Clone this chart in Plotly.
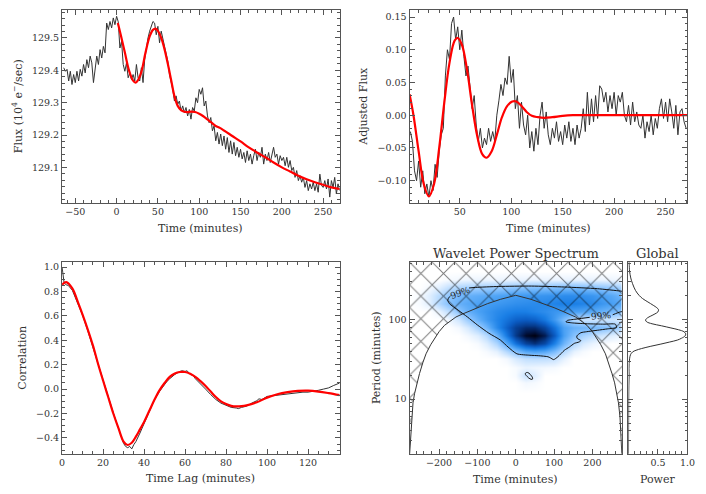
import math
import plotly.graph_objects as go

FONT = "DejaVu Serif"
TXT = "#333333"
AXC = "#555555"

# ---------------- data: panel 1 (raw flux) ----------------
FLUX_START = -64
FLUX_STEP = 2
FLUX = [129.408, 129.397, 129.403, 129.367, 129.397, 129.356, 129.387, 129.362, 129.397, 129.367,
        129.403, 129.382, 129.418, 129.392, 129.433, 129.408, 129.444, 129.423, 129.362, 129.413,
        129.444, 129.418, 129.464, 129.438, 129.474, 129.454, 129.546, 129.526, 129.551, 129.531,
        129.562, 129.541, 129.567, 129.550, 129.469, 129.490, 129.418, 129.397, 129.423, 129.377,
        129.392, 129.372, 129.387, 129.367, 129.418, 129.377, 129.367, 129.408, 129.362, 129.433,
        129.469, 129.500, 129.521, 129.536, 129.551, 129.546, 129.510, 129.536, 129.485, 129.521,
        129.495, 129.474, 129.454, 129.428, 129.387, 129.367, 129.341, 129.305, 129.321, 129.295,
        129.305, 129.274, 129.290, 129.269, 129.285, 129.259, 129.279, 129.249, 129.285, 129.274,
        129.315, 129.300, 129.341, 129.326, 129.346, 129.290, 129.305, 129.259, 129.238, 129.254,
        129.213, 129.228, 129.182, 129.208, 129.172, 129.203, 129.167, 129.197, 129.156, 129.192,
        129.146, 129.182, 129.141, 129.177, 129.136, 129.162, 129.131, 129.156, 129.126, 129.146,
        129.115, 129.151, 129.121, 129.141, 129.110, 129.136, 129.156, 129.121, 129.146, 129.131,
        129.162, 129.110, 129.141, 129.121, 129.146, 129.115, 129.141, 129.162, 129.131, 129.141,
        129.110, 129.136, 129.121, 129.131, 129.105, 129.131, 129.100, 129.121, 129.090, 129.100,
        129.069, 129.090, 129.059, 129.074, 129.054, 129.069, 129.038, 129.059, 129.028, 129.049,
        129.033, 129.054, 129.028, 129.049, 129.023, 129.079, 129.044, 129.038, 129.059, 129.033,
        129.064, 129.008, 129.059, 129.038, 129.069, 129.018, 129.049, 129.028]

FIT_T = [1.5, 5, 10, 15, 20, 23, 26, 30, 35, 40, 44, 47, 50, 54, 58, 62, 66, 70, 74, 78, 82, 86, 90,
         95, 100, 105, 110, 115, 120, 125, 130, 140, 150, 160, 170, 180, 190, 200, 210, 220, 230, 240,
         250, 260, 270]
FIT_FLUX = [129.546, 129.51, 129.455, 129.40, 129.368, 129.362, 129.37, 129.395, 129.455, 129.505,
            129.525, 129.529, 129.522, 129.50, 129.465, 129.42, 129.37, 129.32, 129.29, 129.277,
            129.272, 129.271, 129.272, 129.271, 129.266, 129.258, 129.248, 129.238, 129.228, 129.222,
            129.214, 129.197, 129.18, 129.162, 129.146, 129.131, 129.115, 129.100, 129.087, 129.074,
            129.063, 129.054, 129.046, 129.038, 129.033]

# ---------------- data: panel 2 (adjusted flux) ----------------
ADJ_START = 2
ADJ_STEP = 2
ADJ = [-0.025, -0.040, -0.085, -0.100, -0.070, -0.110, -0.085, -0.120, -0.105, -0.125,
       -0.100, -0.115, -0.075, -0.095, -0.055, -0.030, -0.020, 0.060, 0.100, 0.085,
       0.140, 0.150, 0.115, 0.135, 0.100, 0.130, 0.090, 0.060, 0.075, 0.040,
       0.010, 0.030, -0.015, -0.040, -0.020, -0.050, -0.035, -0.045, -0.020, -0.040,
       -0.025, -0.040, 0.000, 0.022, 0.047, 0.030, 0.057, 0.047, 0.090, 0.050,
       0.070, 0.010, 0.030, -0.020, 0.020, -0.015, -0.030, 0.000, -0.050, -0.025,
       -0.055, -0.020, -0.045, 0.000, 0.020, -0.020, 0.005, -0.030, -0.045, -0.020,
       -0.035, -0.010, -0.040, -0.025, -0.045, -0.015, -0.035, -0.010, -0.040, -0.020,
       -0.045, -0.015, -0.035, -0.020, 0.010, -0.025, 0.035, -0.015, 0.025, -0.010,
       0.030, -0.005, 0.045, 0.040, 0.020, 0.035, 0.005, 0.030, 0.010, 0.035,
       0.000, 0.030, 0.020, 0.035, 0.000, -0.010, 0.015, -0.015, 0.020, -0.010,
       0.005, -0.015, -0.020, 0.000, -0.035, -0.010, -0.025, 0.000, -0.030, -0.005,
       -0.020, 0.010, 0.025, -0.005, 0.020, -0.010, 0.025, 0.005, -0.020, 0.015,
       -0.030, 0.005, 0.010, -0.010, -0.020]

ADJ_FIT_T = [1.2, 5, 10, 15, 20, 25, 30, 35, 40, 45, 48, 52, 57, 62, 67, 72, 76, 81, 86, 91, 96, 101,
             105, 110, 115, 120, 126, 132, 140, 150, 160, 180, 220, 271]
ADJ_FIT = [0.032, 0.0, -0.055, -0.105, -0.124, -0.105, -0.05, 0.02, 0.08, 0.114, 0.118, 0.108, 0.07,
           0.015, -0.032, -0.060, -0.065, -0.055, -0.03, -0.003, 0.014, 0.021, 0.021, 0.014, 0.005,
           -0.001, -0.003, -0.004, -0.003, -0.001, 0.0, 0.0, 0.0, 0.0]

# ---------------- data: panel 3 (autocorrelation) ----------------
LAG = [0, 0.5, 1, 2, 3, 5, 8, 10, 12.5, 15, 17.5, 20, 22.5, 25, 27.5, 29, 30, 31, 32, 33, 34, 35, 36,
       38, 40, 42.5, 45, 47.5, 50, 51, 52.5, 55, 57.5, 58.5, 60, 61, 62.5, 64, 65, 67.5, 70, 72.5, 75,
       77.5, 80, 82.5, 85, 86, 87.5, 90, 92.5, 95, 96, 97.5, 100, 102.5, 105, 107.5, 110, 112.5, 115,
       117.5, 120, 122.5, 125, 127.5, 130, 132.5, 135.4]
CORR = [1.0, 0.95, 0.87, 0.855, 0.85, 0.81, 0.695, 0.605, 0.48, 0.35, 0.21, 0.075, -0.06, -0.195,
        -0.33, -0.40, -0.445, -0.47, -0.48, -0.47, -0.49, -0.455, -0.43, -0.36, -0.285, -0.185, -0.09,
        -0.02, 0.04, 0.06, 0.085, 0.12, 0.145, 0.15, 0.145, 0.15, 0.12, 0.11, 0.085, 0.045, 0.0, -0.045,
        -0.085, -0.115, -0.135, -0.15, -0.155, -0.16, -0.15, -0.14, -0.115, -0.095, -0.08, -0.085,
        -0.06, -0.055, -0.05, -0.04, -0.035, -0.03, -0.028, -0.025, -0.025, -0.02, -0.01, 0.0, 0.01,
        0.03, 0.05]
LAG_FIT = [0, 2, 5, 8, 10, 12.5, 15, 17.5, 20, 22.5, 25, 27.5, 30, 32, 34, 36, 38, 40, 42.5, 45, 47.5,
           50, 52.5, 55, 57.5, 60, 62.5, 65, 67.5, 70, 72.5, 75, 77.5, 80, 82.5, 85, 87.5, 90, 95, 100,
           105, 110, 115, 120, 125, 130, 135.4]
CORR_FIT = [0.855, 0.877, 0.825, 0.70, 0.61, 0.49, 0.36, 0.21, 0.07, -0.065, -0.2, -0.32, -0.43,
            -0.458, -0.44, -0.39, -0.33, -0.27, -0.18, -0.09, -0.01, 0.05, 0.10, 0.128, 0.14, 0.14,
            0.125, 0.10, 0.065, 0.025, -0.02, -0.065, -0.10, -0.122, -0.137, -0.142, -0.14, -0.133,
            -0.108, -0.07, -0.042, -0.025, -0.015, -0.013, -0.02, -0.033, -0.05]

# ---------------- data: wavelet power spectrum ----------------
WAV_T = [-275, -250, -225, -200, -175, -150, -125, -100, -75, -50, -25, 0, 25, 50, 75, 100, 125,
         150, 175, 200, 225, 250, 275]
WAV_P = [12, 16, 20, 25, 32, 40, 50, 63, 80, 100, 126, 160, 200, 250, 320, 400]
WAV_POWER = [
    [0, 0, 0, 0, 0, 0, 0, 0, 0, 0, 0, 0, 0, 0, 0, 0, 0, 0, 0, 0, 0, 0, 0],
    [0, 0, 0, 0, 0, 0, 0, 0, 0, 0, 0, 0, 3, 2, 0, 0, 0, 0, 0, 0, 0, 0, 0],
    [0, 0, 0, 0, 0, 0, 0, 0, 0, 0, 0, 2, 14, 8, 0, 0, 0, 0, 0, 0, 0, 0, 0],
    [0, 0, 0, 0, 0, 0, 0, 0, 0, 0, 0, 2, 5, 4, 3, 2, 0, 0, 0, 0, 0, 0, 0],
    [0, 0, 0, 0, 0, 0, 0, 0, 0, 0, 3, 10, 15, 16, 16, 14, 6, 0, 0, 0, 0, 0, 0],
    [0, 0, 0, 0, 0, 0, 0, 0, 2, 6, 18, 30, 42, 45, 42, 32, 18, 6, 2, 0, 0, 0, 0],
    [0, 0, 0, 0, 0, 0, 0, 2, 8, 20, 42, 64, 80, 86, 78, 58, 36, 20, 10, 5, 2, 0, 0],
    [0, 0, 0, 0, 0, 0, 3, 8, 18, 36, 62, 84, 97, 100, 92, 72, 46, 30, 22, 16, 12, 8, 5],
    [0, 0, 0, 0, 0, 3, 10, 22, 36, 55, 70, 82, 88, 88, 80, 64, 45, 38, 36, 34, 32, 28, 22],
    [0, 0, 0, 0, 4, 12, 25, 38, 48, 57, 64, 70, 72, 70, 62, 48, 32, 18, 12, 12, 12, 12, 10],
    [0, 0, 0, 6, 16, 28, 38, 45, 50, 55, 58, 60, 60, 57, 54, 50, 48, 46, 44, 42, 38, 34, 30],
    [0, 2, 8, 20, 30, 38, 42, 45, 47, 49, 51, 53, 54, 55, 56, 58, 60, 60, 58, 55, 50, 46, 42],
    [0, 2, 8, 18, 28, 34, 38, 40, 42, 44, 46, 48, 49, 50, 51, 52, 54, 54, 52, 50, 46, 42, 36],
    [0, 0, 3, 8, 15, 20, 22, 23, 24, 25, 27, 29, 30, 31, 31, 32, 33, 33, 32, 30, 28, 26, 22],
    [0, 0, 0, 0, 2, 3, 4, 4, 4, 4, 5, 5, 5, 5, 5, 5, 5, 5, 5, 5, 4, 4, 3],
    [0, 0, 0, 0, 0, 0, 0, 0, 0, 0, 0, 0, 0, 0, 0, 0, 0, 0, 0, 0, 0, 0, 0],
]

# cone of influence (period in minutes)
COI_T = [-277, -276, -274, -272, -268, -264, -258, -251, -242, -234, -222, -212, -200, -186, -170,
         -156, -140, -126, -100, -74, -40, 0, 40, 74, 100, 126, 140, 156, 170, 186, 200, 212, 222,
         234, 242, 251, 258, 264, 268, 272, 274, 276, 277]
COI_P = [2.0, 2.4, 4, 6, 9, 11.7, 16, 21, 29, 37, 48, 58, 70, 84, 96, 107, 116, 124, 140, 157, 178,
         200, 178, 157, 140, 124, 116, 107, 96, 84, 70, 58, 48, 37, 29, 21, 16, 11.7, 9, 6, 4, 2.4, 2.0]

# 99% significance contours
SIG_T = [-177.6, -175, -170, None, -122, -105, -45, 41, 127, 213, 273, 285, None, 285, 273, 253,
         None, 193, 160, 135, 131, 150, 187, 230, 260, 263, 240, 213, 185, 170, 159.5, 160, 170, 165,
         153, 140, 127, 110, 99, 90, 84, 60, 37, 3, -20, -40, -70, -100, -126, -150, -173, -177.6]
SIG_P = [173, 186, 197, None, 247, 251, 258, 261, 254, 242, 226, 222, None, 126, 124, 114,
         None, 106, 101, 97, 93, 90, 88, 87, 87, 79, 76, 73, 70, 68, 62, 58, 54, 52,
         50, 45, 41, 34, 31.3, 33, 34, 35, 35.5, 37, 45, 55, 67, 85, 107, 130, 157, 173]
SIG2_T = [26, 31, 38, 44, 43, 37, 30, 25, 26]
SIG2_P = [21.3, 21.6, 20.4, 18.4, 17.7, 18.0, 19.2, 20.6, 21.3]
SIG_LABELS = [(-145, 214, -20), (222, 109, -5)]  # (time, period, angle)

# global wavelet spectrum
GLOBAL_P = [520, 450, 400, 330, 280, 230, 200, 182, 165, 150, 140, 132, 124, 117, 110, 104, 98, 93,
            88, 83, 78, 74, 70, 66, 62, 58, 55, 52, 49, 46, 43, 41, 39, 36, 32, 28, 24, 20, 15, 10,
            6, 4, 2]
GLOBAL_POWER = [0.01, 0.015, 0.02, 0.04, 0.07, 0.12, 0.18, 0.24, 0.33, 0.42, 0.48, 0.51, 0.50, 0.45,
                0.38, 0.32, 0.29, 0.31, 0.40, 0.56, 0.72, 0.85, 0.94, 0.97, 0.96, 0.90, 0.83, 0.70,
                0.55, 0.38, 0.22, 0.13, 0.07, 0.035, 0.02, 0.012, 0.01, 0.012, 0.008, 0.005, 0.004,
                0.003, 0.002]

flux_t = [FLUX_START + FLUX_STEP * i for i in range(len(FLUX))]
adj_t = [ADJ_START + ADJ_STEP * i for i in range(len(ADJ))]

W, H = 706, 494


def px(x):
    return x / W


def py(y):
    return 1 - y / H


def style(**kw):
    minor = kw.pop("minor", {})
    base = dict(showline=True, linecolor=AXC, linewidth=1, mirror="allticks", ticks="inside",
                ticklen=5, tickwidth=1, tickcolor=AXC, showgrid=False, zeroline=False,
                tickfont=dict(family=FONT, size=9.5, color=TXT), fixedrange=True)
    m = dict(ticks="inside", ticklen=2.5, tickwidth=1, tickcolor=AXC, showgrid=False)
    m.update(minor)
    base["minor"] = m
    base.update(kw)
    return base


fig = go.Figure()
BLK = dict(color="#333333", width=1)
RED = dict(color="#ff0000", width=2.2, shape="spline")

# panel 1
fig.add_trace(go.Scatter(x=flux_t, y=FLUX, mode="lines", line=BLK, xaxis="x", yaxis="y"))
fig.add_trace(go.Scatter(x=FIT_T, y=FIT_FLUX, mode="lines", line=RED, xaxis="x", yaxis="y"))
# panel 2
fig.add_trace(go.Scatter(x=adj_t, y=ADJ, mode="lines", line=BLK, xaxis="x2", yaxis="y2"))
fig.add_trace(go.Scatter(x=ADJ_FIT_T, y=ADJ_FIT, mode="lines", line=RED, xaxis="x2", yaxis="y2"))
# panel 3
fig.add_trace(go.Scatter(x=LAG, y=CORR, mode="lines", line=BLK, xaxis="x3", yaxis="y3"))
fig.add_trace(go.Scatter(x=LAG_FIT, y=CORR_FIT, mode="lines", line=RED, xaxis="x3", yaxis="y3"))

# wavelet
CS = [[0, "#ffffff"], [0.05, "#eaf4ff"], [0.15, "#c2e0ff"], [0.3, "#86c2ff"], [0.45, "#4ca2f5"],
      [0.6, "#1a7fe6"], [0.72, "#0b5cc4"], [0.84, "#063a8a"], [0.93, "#02184a"], [1, "#000010"]]
fig.add_trace(go.Heatmap(x=WAV_T, y=WAV_P, z=WAV_POWER, zmin=0, zmax=100, colorscale=CS,
                         zsmooth="best", showscale=False, hoverinfo="skip", xaxis="x4", yaxis="y4"))
hatch_x = [-285, -285] + COI_T + [285, 285]
hatch_y = [700, 2.0] + COI_P + [2.0, 700]
fig.add_trace(go.Scatter(x=hatch_x, y=hatch_y, mode="lines", fill="toself",
                         fillcolor="rgba(0,0,0,0)", line=dict(width=0),
                         fillpattern=dict(shape="x", size=16, solidity=0.12, fgcolor="#000000",
                                          bgcolor="rgba(0,0,0,0)", fillmode="overlay"),
                         hoverinfo="skip", xaxis="x4", yaxis="y4"))
fig.add_trace(go.Scatter(x=COI_T, y=COI_P, mode="lines", line=dict(color="#333333", width=1),
                         xaxis="x4", yaxis="y4"))
fig.add_trace(go.Scatter(x=SIG_T, y=SIG_P, mode="lines",
                         line=dict(color="#111111", width=1, shape="spline", smoothing=0.6),
                         xaxis="x4", yaxis="y4"))
fig.add_trace(go.Scatter(x=SIG2_T, y=SIG2_P, mode="lines",
                         line=dict(color="#111111", width=1, shape="spline"),
                         xaxis="x4", yaxis="y4"))
# global
fig.add_trace(go.Scatter(x=GLOBAL_POWER, y=GLOBAL_P, mode="lines",
                         line=dict(color="#333333", width=1, shape="spline"),
                         xaxis="x5", yaxis="y5"))

TOP = [py(202), py(9.5)]
BOT = [py(453.7), py(261.7)]
LOGR = [math.log10(2.07), math.log10(520)]

fig.update_layout(
    width=W, height=H, margin=dict(l=0, r=0, t=0, b=0), showlegend=False,
    paper_bgcolor="white", plot_bgcolor="white",
    xaxis=style(domain=[px(60), px(342)], anchor="y", range=[-66, 270], tick0=0, dtick=50,
                minor=dict(dtick=10, tick0=0)),
    yaxis=style(domain=TOP, anchor="x", range=[128.991, 129.585], tickmode="array",
                tickvals=[129.1, 129.2, 129.3, 129.4, 129.5], tickformat=".1f",
                minor=dict(tickmode="linear", tick0=129.0, dtick=0.02)),
    xaxis2=style(domain=[px(413), px(695)], anchor="y2", range=[1.2, 271], tick0=0, dtick=50,
                 minor=dict(dtick=10, tick0=0)),
    yaxis2=style(domain=TOP, anchor="x2", range=[-0.1335, 0.16], tick0=0, dtick=0.05,
                 tickformat=".2f", minor=dict(dtick=0.01, tick0=0)),
    xaxis3=style(domain=[px(60), px(342)], anchor="y3", range=[0, 135.4], tick0=0, dtick=20,
                 minor=dict(dtick=5, tick0=0)),
    yaxis3=style(domain=BOT, anchor="x3", range=[-0.53, 1.04], tick0=0, dtick=0.2,
                 tickformat=".1f", minor=dict(dtick=0.05, tick0=0)),
    xaxis4=style(domain=[px(413), px(628.7)], anchor="y4", range=[-277, 277], tick0=0, dtick=100,
                 minor=dict(dtick=20, tick0=0)),
    yaxis4=style(domain=BOT, anchor="x4", type="log", range=LOGR, dtick=1,
                 minor=dict(dtick="D1")),
    xaxis5=style(domain=[px(635.3), px(695.3)], anchor="y5", range=[0, 1.0], tickmode="array",
                 tickvals=[0.5, 1.0], tickformat=".1f", minor=dict(tickmode="linear", tick0=0, dtick=0.1)),
    yaxis5=style(domain=BOT, anchor="x5", type="log", range=LOGR, dtick=1, showticklabels=False,
                 minor=dict(dtick="D1")),
)

ann = []


def label(text, x, y, size=11, angle=0):
    ann.append(dict(text=text, x=px(x), y=py(y), xref="paper", yref="paper", showarrow=False,
                    textangle=angle, xanchor="center", yanchor="middle",
                    font=dict(family=FONT, size=size, color=TXT)))


label("Time (minutes)", 201, 227.7)
label("Flux (10<sup>4</sup> e<sup>\u2212</sup>/sec)", 15, 105.7, angle=-90)
label("Time (minutes)", 554, 227.7)
label("Adjusted Flux", 366, 105.7, angle=-90)
label("Time Lag (minutes)", 201, 478.3)
label("Correlation", 20, 357.7, angle=-90)
label("Time (minutes)", 521, 479.3)
label("Period (minutes)", 380, 357.7, angle=-90)
label("Power", 665, 479.3)
label("Wavelet Power Spectrum", 521, 252.7, size=13)
label("Global", 665.3, 252.7, size=13)

for (t, p, a) in SIG_LABELS:
    ann.append(dict(text="99%", x=t, y=math.log10(p), xref="x4", yref="y4", showarrow=False,
                    textangle=a, font=dict(family=FONT, size=9, color="#222222")))

fig.update_layout(annotations=ann)
fig.write_html("out.html", config={"displayModeBar": False, "staticPlot": True},
               post_script="document.body.style.margin='0';")
